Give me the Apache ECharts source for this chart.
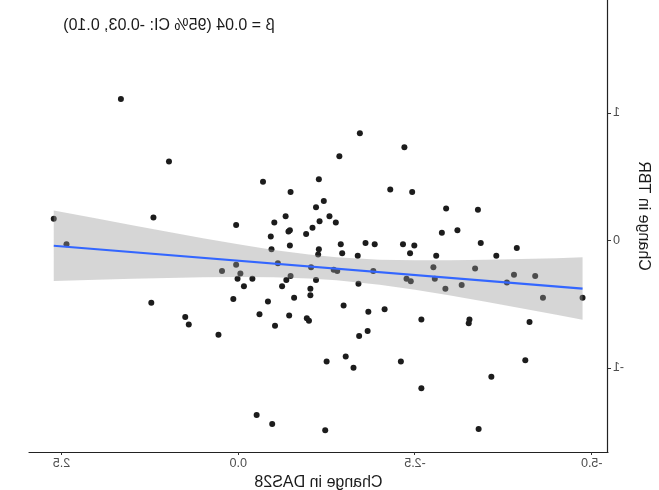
<!DOCTYPE html>
<html>
<head>
<meta charset="utf-8">
<script src="https://cdn.jsdelivr.net/npm/echarts@6/dist/echarts.min.js"></script>
<style>
  html, body { margin: 0; padding: 0; background: #ffffff; }
  #chart { width: 659px; height: 490px; transform: scaleX(-1); }
</style>
</head>
<body>
<div id="chart"></div>
<script>
// Change in DAS28 (x) and change in TBR (y), one entry per patient
const dasChange = [
  1.66, 0.98, 2.61, 1.20, 2.43, -0.35, -1.14, -0.74, -1.21, -1.10,
  -0.67, 0.03, -0.51, -1.15, -1.05, -0.73, -0.71, -0.96, -0.46, -0.73,
  -0.47, -1.14, -1.13, -1.72, -2.35, -1.43, -2.15, -2.46, -1.29, -1.38,
  -2.94, -2.88, -3.10, -1.45, -1.80, -1.93, -2.33, -2.49, -1.47, -2.43,
  -1.69, -2.80, -3.39, -3.43, -3.94, -3.65, 1.23, 0.03, 0.23, -0.03,
  0.01, -0.20, -0.08, -0.56, -0.74, -0.68, -0.62, -1.03, -1.10, -1.02,
  -1.02, 0.07, -0.42, -0.79, 0.75, 0.70, -0.30, -0.72, -0.52, -0.97,
  -1.00, 0.28, -0.26, -0.48, -1.25, -1.23, -1.35, -1.40, -1.91, -1.70,
  -2.38, -2.44, -2.76, -2.78, -2.93, -3.16, -1.49, -1.84, -2.07, -2.59,
  -3.27, -3.26, -1.83, -1.71, -1.52, -1.63, -2.30, -2.59, -3.35, -3.90,
  -4.20, -3.80, -4.31, -4.87, -4.12, -4.06, -3.58, -3.40
];
const tbrChange = [
  1.11, 0.62, 0.17, 0.18, -0.03, 0.46, 0.48, 0.38, 0.31, 0.26,
  0.19, 0.12, 0.14, 0.15, 0.10, 0.08, 0.07, 0.05, 0.03, -0.04,
  -0.07, -0.07, -0.11, 0.84, 0.73, 0.66, 0.40, 0.38, 0.19, 0.14,
  0.25, 0.06, 0.08, -0.03, -0.02, -0.03, -0.03, -0.04, -0.10, -0.10,
  -0.12, -0.12, 0.24, -0.02, -0.06, -0.12, -0.49, -0.19, -0.24, -0.26,
  -0.30, -0.30, -0.36, -0.18, -0.28, -0.31, -0.36, -0.21, -0.31, -0.38,
  -0.43, -0.46, -0.48, -0.45, -0.60, -0.66, -0.58, -0.59, -0.67, -0.61,
  -0.63, -0.74, -1.37, -1.44, -0.95, -1.49, -0.23, -0.24, -0.24, -0.34,
  -0.30, -0.32, -0.21, -0.30, -0.38, -0.35, -0.51, -0.56, -0.54, -0.62,
  -0.62, -0.65, -0.71, -0.75, -0.91, -1.00, -0.95, -1.16, -0.22, -0.27,
  -0.28, -0.33, -0.45, -0.45, -0.64, -0.94, -1.07, -1.48
];

// Fitted regression line (end points) and its 95% confidence band
const fitX = [-4.87, 2.61];
const fitY = [-0.378, -0.042];
const bandX    = [2.61, 2.0, 1.5, 1.0, 0.5, 0.0, -0.5, -1.0, -1.39, -2.0, -2.5, -3.0, -3.5, -4.0, -4.5, -4.87];
const bandHigh = [0.235, 0.171, 0.118, 0.067, 0.017, -0.031, -0.075, -0.110, -0.132, -0.151, -0.156, -0.155, -0.152, -0.146, -0.139, -0.133];
const bandLow  = [-0.319, -0.309, -0.301, -0.295, -0.290, -0.287, -0.289, -0.298, -0.312, -0.348, -0.388, -0.433, -0.482, -0.532, -0.584, -0.623];

// Axis ticks
const xTicks = [-5, -2.5, 0, 2.5];
const xTickLabels = ['-5.0', '-2.5', '0.0', '2.5'];
const yTicks = [-1, 0, 1];
const yTickLabels = ['-1', '0', '1'];

const xTitle = 'Change in DAS28';
const yTitle = 'Change in TBR';
const annotation = 'β = 0.04 (95% CI: -0.03, 0.10)';

const points = dasChange.map((x, i) => [x, tbrChange[i]]);
const fitLine = fitX.map((x, i) => [x, fitY[i]]);

const chart = echarts.init(document.getElementById('chart'), null, { renderer: 'canvas' });

const font = '"Liberation Sans", Arial, Helvetica, sans-serif';

chart.setOption({
  animation: false,
  backgroundColor: '#ffffff',
  grid: { left: 51, right: 29, top: -20, bottom: 38, containLabel: false, outerBoundsMode: 'none' },
  xAxis: {
    type: 'value',
    min: -5.23,
    max: 2.96,
    name: xTitle,
    nameLocation: 'middle',
    nameGap: 21,
    nameTextStyle: { color: '#1a1a1a', fontSize: 16, fontFamily: font },
    splitLine: { show: false },
    axisLine: { show: true, onZero: false, lineStyle: { color: '#222', width: 1.2 } },
    axisTick: { show: true, length: 3, customValues: xTicks, lineStyle: { color: '#333' } },
    axisLabel: {
      customValues: xTicks,
      margin: 5,
      color: '#4d4d4d',
      fontSize: 12.5,
      fontFamily: font,
      formatter: v => xTickLabels[xTicks.indexOf(v)] ?? ''
    }
  },
  yAxis: {
    type: 'value',
    min: -1.66,
    max: 2.043,
    name: yTitle,
    nameLocation: 'middle',
    nameGap: 24,
    nameRotate: 90,
    nameTextStyle: { color: '#1a1a1a', fontSize: 16, fontFamily: font },
    splitLine: { show: false },
    axisLine: { show: true, onZero: false, lineStyle: { color: '#222', width: 1.2 } },
    axisTick: { show: true, length: 3, customValues: yTicks, lineStyle: { color: '#333' } },
    axisLabel: {
      customValues: yTicks,
      margin: 5,
      color: '#4d4d4d',
      fontSize: 12.5,
      fontFamily: font,
      formatter: v => yTickLabels[yTicks.indexOf(v)] ?? ''
    }
  },
  graphic: [{
    type: 'text',
    x: 490,
    y: 26,
    style: {
      text: annotation,
      fill: '#1a1a1a',
      font: '16px ' + font,
      align: 'center',
      verticalAlign: 'middle'
    }
  }],
  series: [
    {
      type: 'scatter',
      data: points,
      symbolSize: 6,
      itemStyle: { color: '#1c1c1c', opacity: 1 },
      z: 2
    },
    {
      type: 'custom',
      data: [[0, 0]],
      z: 3,
      renderItem: (params, api) => {
        const upper = bandX.map((x, i) => api.coord([x, bandHigh[i]]));
        const lower = bandX.map((x, i) => api.coord([x, bandLow[i]])).reverse();
        return {
          type: 'polygon',
          shape: { points: upper.concat(lower) },
          style: { fill: 'rgba(153,153,153,0.4)' }
        };
      }
    },
    {
      type: 'line',
      data: fitLine,
      showSymbol: false,
      lineStyle: { color: '#3366FF', width: 2.2 },
      z: 4
    }
  ]
});
</script>
</body>
</html>
